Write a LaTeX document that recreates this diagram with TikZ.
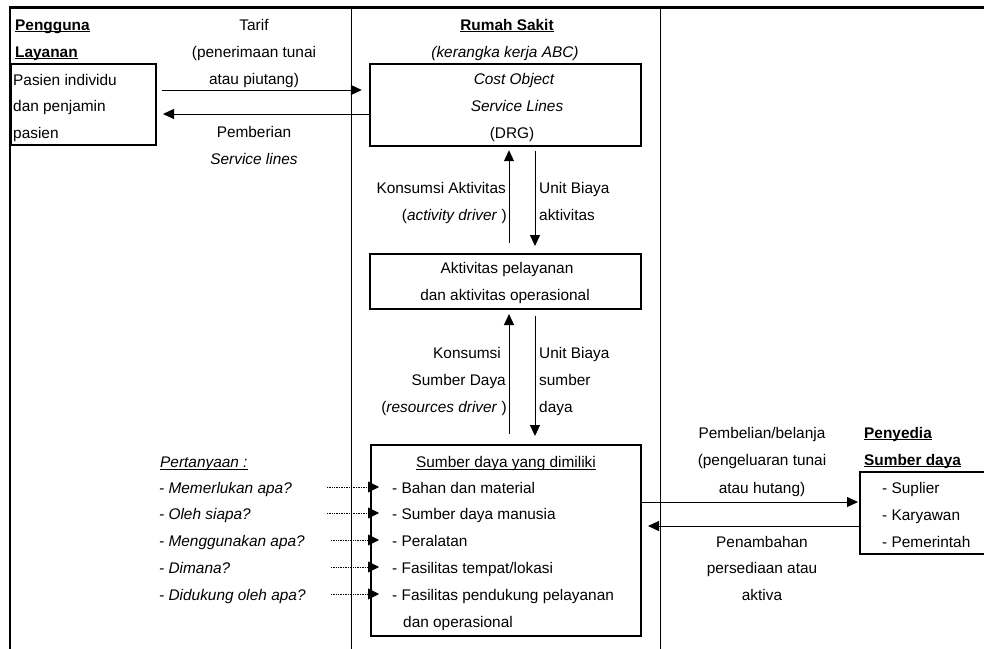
\documentclass[tikz,border=0pt]{standalone}
\usepackage{fontspec}
\setmainfont{Liberation Sans}
\usetikzlibrary{arrows.meta}
% underline at a fixed depth below the baseline, crossing descenders
\newcommand\ulx[2][0.9pt]{\setbox0\hbox{#2}\rlap{\rule[-2.4pt]{\wd0}{#1}}\box0}
\begin{document}
\begin{tikzpicture}[x=1pt,y=-1pt,
  every node/.style={inner sep=0pt,font=\fontsize{15.4}{26}\selectfont},
  lt/.style={anchor=base west},
  ct/.style={anchor=base},
  rt/.style={anchor=base east},
  box/.style={draw,line width=2pt,inner sep=0pt,anchor=center},
  arr/.style={line width=1pt,-{Triangle[length=11pt,width=10pt]}},
  dotarr/.style={line width=0.8pt,dash pattern=on 0.8pt off 0.9pt,
    -{Triangle[length=11pt,width=11pt]}}]
\useasboundingbox (0,0) rectangle (984,648);

% table grid
\draw[line width=2.6pt] (9,7.5) -- (990,7.5);
\draw[line width=2pt] (10,6.5) -- (10,652);
\draw[line width=1pt] (351,7) -- (351,652);
\draw[line width=1pt] (660,7) -- (660,652);

% ---- service users ----
\node[lt] (pg1) at (15,30) {\ulx[1.1pt]{\bfseries Pengguna}};
\node[lt] (pg2) at (15,57) {\ulx[1.1pt]{\bfseries Layanan}};
\node[box,minimum width=145pt,minimum height=81pt] (pasien) at (83.5,104.5) {};
\node[lt] (ps1) at (13,85) {Pasien individu};
\node[lt] (ps2) at (13,111) {dan penjamin};
\node[lt] (ps3) at (13,138) {pasien};

\node[ct] (tf1) at (254,30) {Tarif};
\node[ct] (tf2) at (254,57) {(penerimaan tunai};
\node[ct] (tf3) at (254,84) {atau piutang)};
\node[ct] (pb1) at (254,137) {Pemberian};
\node[ct] (pb2) at (254,164) {\itshape Service lines};

% ---- hospital (ABC framework) ----
\node[ct] (rs1) at (507,30) {\ulx[1.1pt]{\bfseries Rumah Sakit}};
\node[ct] (rs2) at (505,57) {\itshape (kerangka kerja ABC)};

\node[box,line width=2.4pt,minimum width=271pt,minimum height=82pt] (cost) at (505.5,105) {};
\node[ct] (co1) at (514,84) {\itshape Cost Object};
\node[ct] (co2) at (517,111) {\itshape Service Lines};
\node[ct] (co3) at (512,138) {(DRG)};

\node[box,minimum width=271pt,minimum height=55pt] (aktiv) at (505.5,281.5) {};
\node[ct] (ak1) at (507,273) {Aktivitas pelayanan};
\node[ct] (ak2) at (505,300) {dan aktivitas operasional};

\node[box,minimum width=270pt,minimum height=191pt] (sumber) at (506,540.5) {};
\node[ct] (sd0) at (506,467) {\ulx{Sumber daya yang dimiliki}};
\node[lt] (sd1) at (392,493) {-\ Bahan dan material};
\node[lt] (sd2) at (392,519) {-\ Sumber daya manusia};
\node[lt] (sd3) at (392,546) {-\ Peralatan};
\node[lt] (sd4) at (392,573) {-\ Fasilitas tempat/lokasi};
\node[lt] (sd5) at (392,600) {-\ Fasilitas pendukung pelayanan};
\node[lt] (sd6) at (403,627) {dan operasional};

\node[rt] (ka1) at (506,193) {Konsumsi Aktivitas};
\node[rt] (ka2) at (507,220) {(\textit{activity driver} )};
\node[lt] (ub1) at (539,193) {Unit Biaya};
\node[lt] (ub2) at (539,220) {aktivitas};

\node[rt] (ks1) at (501,358) {Konsumsi};
\node[rt] (ks2) at (506,385) {Sumber Daya};
\node[rt] (ks3) at (507,412) {(\textit{resources driver} )};
\node[lt] (us1) at (539,358) {Unit Biaya};
\node[lt] (us2) at (539,385) {sumber};
\node[lt] (us3) at (539,412) {daya};

% ---- questions ----
\node[lt] (qt) at (160,467) {\itshape\ulx{Pertanyaan :}};
\node[lt] (q1) at (159,493) {\itshape - Memerlukan apa?};
\node[lt] (q2) at (159,519) {\itshape - Oleh siapa?};
\node[lt] (q3) at (159,546) {\itshape - Menggunakan apa?};
\node[lt] (q4) at (159,573) {\itshape - Dimana?};
\node[lt] (q5) at (159,600) {\itshape - Didukung oleh apa?};

% ---- resource providers ----
\node[ct] (bl1) at (762,438) {Pembelian/belanja};
\node[ct] (bl2) at (762,465) {(pengeluaran tunai};
\node[ct] (bl3) at (762,493) {atau hutang)};
\node[ct] (pn1) at (762,547) {Penambahan};
\node[ct] (pn2) at (762,573) {persediaan atau};
\node[ct] (pn3) at (762,600) {aktiva};

\node[lt] (py1) at (864,438) {\ulx[1.1pt]{\bfseries Penyedia}};
\node[lt] (py2) at (864,465) {\ulx[1.1pt]{\bfseries Sumber daya}};
\node[box,minimum width=135pt,minimum height=82pt] (penyedia) at (927.5,513) {};
\node[lt] (pv1) at (882,493) {-\ Suplier};
\node[lt] (pv2) at (882,520) {-\ Karyawan};
\node[lt] (pv3) at (882,547) {-\ Pemerintah};

% ---- connector rows and columns ----
\coordinate (rowA) at (0,90);
\coordinate (rowB) at (0,114);
\coordinate (rowC) at (0,502);
\coordinate (rowD) at (0,526);
\coordinate (colU) at (509,0);
\coordinate (colD) at (535,0);

\draw[arr,shorten <=5pt,shorten >=7pt] (pasien.east |- rowA) -- (cost.west |- rowA);
\draw[arr,shorten >=6pt] (cost.west |- rowB) -- (pasien.east |- rowB);

\draw[arr,shorten <=10pt,shorten >=3pt] (aktiv.north -| colU) -- (cost.south -| colU);
\draw[arr,shorten <=4pt,shorten >=7pt] (cost.south -| colD) -- (aktiv.north -| colD);
\draw[arr,shorten <=10pt,shorten >=4pt] (sumber.north -| colU) -- (aktiv.south -| colU);
\draw[arr,shorten <=6pt,shorten >=8pt] (aktiv.south -| colD) -- (sumber.north -| colD);

\draw[arr,shorten >=1pt] (sumber.east |- rowC) -- (penyedia.west |- rowC);
\draw[arr,shorten >=6pt] (penyedia.west |- rowD) -- (sumber.east |- rowD);

% dotted pointers from the questions to the resources
\coordinate (d1) at (327,487);
\coordinate (d2) at (327,513);
\coordinate (d3) at (331,540);
\coordinate (d4) at (331,567);
\coordinate (d5) at (331,594);
\foreach \d in {d1,d2,d3,d4,d5}
  \draw[dotarr,shorten >=-9pt] (\d) -- (sumber.west |- \d);
\end{tikzpicture}
\end{document}
